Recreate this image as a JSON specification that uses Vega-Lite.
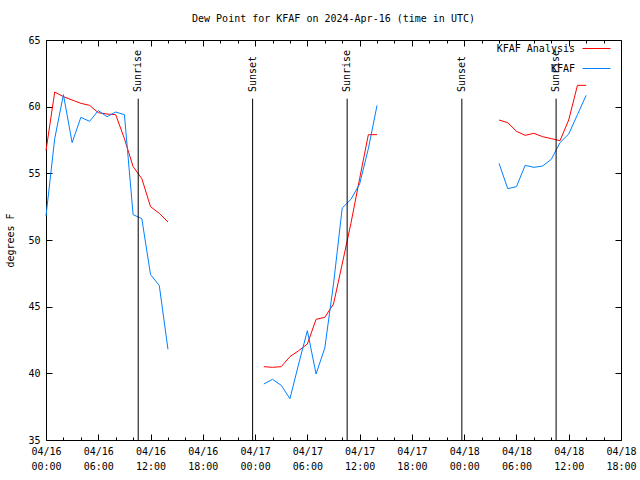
{
  "$schema": "https://vega.github.io/schema/vega-lite/v6.json",
  "width": 575,
  "height": 400,
  "autosize": {"type": "none"},
  "padding": {"left": 46, "top": 40, "right": 19, "bottom": 40},
  "background": "white",
  "title": {"text": "Dew Point for KFAF on 2024-Apr-16 (time in UTC)", "anchor": "middle", "baseline": "bottom", "offset": 0, "font": "DejaVu Sans Mono", "fontSize": 10, "fontWeight": "normal", "color": "black"},
  "datasets": {
    "obs": [
      {"series": "KFAF Analysis", "seg": 1, "t": "2024-04-16T00:00:00Z", "v": 56.7},
      {"series": "KFAF Analysis", "seg": 1, "t": "2024-04-16T01:00:00Z", "v": 61.1},
      {"series": "KFAF Analysis", "seg": 1, "t": "2024-04-16T02:00:00Z", "v": 60.75},
      {"series": "KFAF Analysis", "seg": 1, "t": "2024-04-16T03:00:00Z", "v": 60.5},
      {"series": "KFAF Analysis", "seg": 1, "t": "2024-04-16T04:00:00Z", "v": 60.25},
      {"series": "KFAF Analysis", "seg": 1, "t": "2024-04-16T05:00:00Z", "v": 60.1},
      {"series": "KFAF Analysis", "seg": 1, "t": "2024-04-16T06:00:00Z", "v": 59.55},
      {"series": "KFAF Analysis", "seg": 1, "t": "2024-04-16T07:00:00Z", "v": 59.45},
      {"series": "KFAF Analysis", "seg": 1, "t": "2024-04-16T08:00:00Z", "v": 59.4},
      {"series": "KFAF Analysis", "seg": 1, "t": "2024-04-16T09:00:00Z", "v": 57.6},
      {"series": "KFAF Analysis", "seg": 1, "t": "2024-04-16T10:00:00Z", "v": 55.5},
      {"series": "KFAF Analysis", "seg": 1, "t": "2024-04-16T11:00:00Z", "v": 54.6},
      {"series": "KFAF Analysis", "seg": 1, "t": "2024-04-16T12:00:00Z", "v": 52.5},
      {"series": "KFAF Analysis", "seg": 1, "t": "2024-04-16T13:00:00Z", "v": 52.0},
      {"series": "KFAF Analysis", "seg": 1, "t": "2024-04-16T14:00:00Z", "v": 51.35},
      {"series": "KFAF Analysis", "seg": 2, "t": "2024-04-17T01:00:00Z", "v": 40.5},
      {"series": "KFAF Analysis", "seg": 2, "t": "2024-04-17T02:00:00Z", "v": 40.45},
      {"series": "KFAF Analysis", "seg": 2, "t": "2024-04-17T03:00:00Z", "v": 40.5},
      {"series": "KFAF Analysis", "seg": 2, "t": "2024-04-17T04:00:00Z", "v": 41.25},
      {"series": "KFAF Analysis", "seg": 2, "t": "2024-04-17T05:00:00Z", "v": 41.7},
      {"series": "KFAF Analysis", "seg": 2, "t": "2024-04-17T06:00:00Z", "v": 42.2},
      {"series": "KFAF Analysis", "seg": 2, "t": "2024-04-17T07:00:00Z", "v": 44.05},
      {"series": "KFAF Analysis", "seg": 2, "t": "2024-04-17T08:00:00Z", "v": 44.2},
      {"series": "KFAF Analysis", "seg": 2, "t": "2024-04-17T09:00:00Z", "v": 45.2},
      {"series": "KFAF Analysis", "seg": 2, "t": "2024-04-17T10:00:00Z", "v": 48.2},
      {"series": "KFAF Analysis", "seg": 2, "t": "2024-04-17T11:00:00Z", "v": 51.25},
      {"series": "KFAF Analysis", "seg": 2, "t": "2024-04-17T12:00:00Z", "v": 54.6},
      {"series": "KFAF Analysis", "seg": 2, "t": "2024-04-17T13:00:00Z", "v": 57.9},
      {"series": "KFAF Analysis", "seg": 2, "t": "2024-04-17T14:00:00Z", "v": 57.9},
      {"series": "KFAF Analysis", "seg": 3, "t": "2024-04-18T04:00:00Z", "v": 59.0},
      {"series": "KFAF Analysis", "seg": 3, "t": "2024-04-18T05:00:00Z", "v": 58.8},
      {"series": "KFAF Analysis", "seg": 3, "t": "2024-04-18T06:00:00Z", "v": 58.15},
      {"series": "KFAF Analysis", "seg": 3, "t": "2024-04-18T07:00:00Z", "v": 57.85},
      {"series": "KFAF Analysis", "seg": 3, "t": "2024-04-18T08:00:00Z", "v": 58.0},
      {"series": "KFAF Analysis", "seg": 3, "t": "2024-04-18T09:00:00Z", "v": 57.75},
      {"series": "KFAF Analysis", "seg": 3, "t": "2024-04-18T10:00:00Z", "v": 57.6},
      {"series": "KFAF Analysis", "seg": 3, "t": "2024-04-18T11:00:00Z", "v": 57.45},
      {"series": "KFAF Analysis", "seg": 3, "t": "2024-04-18T12:00:00Z", "v": 59.0},
      {"series": "KFAF Analysis", "seg": 3, "t": "2024-04-18T13:00:00Z", "v": 61.6},
      {"series": "KFAF Analysis", "seg": 3, "t": "2024-04-18T14:00:00Z", "v": 61.6},
      {"series": "KFAF", "seg": 1, "t": "2024-04-16T00:00:00Z", "v": 51.8},
      {"series": "KFAF", "seg": 1, "t": "2024-04-16T01:00:00Z", "v": 57.6},
      {"series": "KFAF", "seg": 1, "t": "2024-04-16T02:00:00Z", "v": 60.9},
      {"series": "KFAF", "seg": 1, "t": "2024-04-16T03:00:00Z", "v": 57.3},
      {"series": "KFAF", "seg": 1, "t": "2024-04-16T04:00:00Z", "v": 59.2},
      {"series": "KFAF", "seg": 1, "t": "2024-04-16T05:00:00Z", "v": 58.9},
      {"series": "KFAF", "seg": 1, "t": "2024-04-16T06:00:00Z", "v": 59.7},
      {"series": "KFAF", "seg": 1, "t": "2024-04-16T07:00:00Z", "v": 59.25},
      {"series": "KFAF", "seg": 1, "t": "2024-04-16T08:00:00Z", "v": 59.6},
      {"series": "KFAF", "seg": 1, "t": "2024-04-16T09:00:00Z", "v": 59.4},
      {"series": "KFAF", "seg": 1, "t": "2024-04-16T10:00:00Z", "v": 51.9},
      {"series": "KFAF", "seg": 1, "t": "2024-04-16T11:00:00Z", "v": 51.6},
      {"series": "KFAF", "seg": 1, "t": "2024-04-16T12:00:00Z", "v": 47.4},
      {"series": "KFAF", "seg": 1, "t": "2024-04-16T13:00:00Z", "v": 46.6},
      {"series": "KFAF", "seg": 1, "t": "2024-04-16T14:00:00Z", "v": 41.8},
      {"series": "KFAF", "seg": 2, "t": "2024-04-17T01:00:00Z", "v": 39.2},
      {"series": "KFAF", "seg": 2, "t": "2024-04-17T02:00:00Z", "v": 39.55},
      {"series": "KFAF", "seg": 2, "t": "2024-04-17T03:00:00Z", "v": 39.1},
      {"series": "KFAF", "seg": 2, "t": "2024-04-17T04:00:00Z", "v": 38.1},
      {"series": "KFAF", "seg": 2, "t": "2024-04-17T05:00:00Z", "v": 40.7},
      {"series": "KFAF", "seg": 2, "t": "2024-04-17T06:00:00Z", "v": 43.2},
      {"series": "KFAF", "seg": 2, "t": "2024-04-17T07:00:00Z", "v": 39.95},
      {"series": "KFAF", "seg": 2, "t": "2024-04-17T08:00:00Z", "v": 41.9},
      {"series": "KFAF", "seg": 2, "t": "2024-04-17T09:00:00Z", "v": 46.7},
      {"series": "KFAF", "seg": 2, "t": "2024-04-17T10:00:00Z", "v": 52.4},
      {"series": "KFAF", "seg": 2, "t": "2024-04-17T11:00:00Z", "v": 53.05},
      {"series": "KFAF", "seg": 2, "t": "2024-04-17T12:00:00Z", "v": 54.2},
      {"series": "KFAF", "seg": 2, "t": "2024-04-17T13:00:00Z", "v": 56.85},
      {"series": "KFAF", "seg": 2, "t": "2024-04-17T14:00:00Z", "v": 60.1},
      {"series": "KFAF", "seg": 3, "t": "2024-04-18T04:00:00Z", "v": 55.75},
      {"series": "KFAF", "seg": 3, "t": "2024-04-18T05:00:00Z", "v": 53.85},
      {"series": "KFAF", "seg": 3, "t": "2024-04-18T06:00:00Z", "v": 54.0},
      {"series": "KFAF", "seg": 3, "t": "2024-04-18T07:00:00Z", "v": 55.6},
      {"series": "KFAF", "seg": 3, "t": "2024-04-18T08:00:00Z", "v": 55.45},
      {"series": "KFAF", "seg": 3, "t": "2024-04-18T09:00:00Z", "v": 55.55},
      {"series": "KFAF", "seg": 3, "t": "2024-04-18T10:00:00Z", "v": 56.05},
      {"series": "KFAF", "seg": 3, "t": "2024-04-18T11:00:00Z", "v": 57.3},
      {"series": "KFAF", "seg": 3, "t": "2024-04-18T12:00:00Z", "v": 57.95},
      {"series": "KFAF", "seg": 3, "t": "2024-04-18T13:00:00Z", "v": 59.4},
      {"series": "KFAF", "seg": 3, "t": "2024-04-18T14:00:00Z", "v": 60.85}
    ],
    "events": [
      {"event": "Sunrise", "t": "2024-04-16T10:35:00Z"},
      {"event": "Sunset", "t": "2024-04-16T23:43:00Z"},
      {"event": "Sunrise", "t": "2024-04-17T10:34:00Z"},
      {"event": "Sunset", "t": "2024-04-17T23:44:00Z"},
      {"event": "Sunrise", "t": "2024-04-18T10:33:00Z"}
    ]
  },
  "resolve": {"axis": {"x": "independent", "y": "independent"}},
  "layer": [
    {
      "data": {"name": "obs"},
      "mark": {"type": "line", "strokeWidth": 1},
      "encoding": {
        "x": {
          "field": "t", "type": "temporal",
          "scale": {"domain": [1713225600000, 1713463200000], "nice": false},
          "axis": {
            "orient": "bottom", "title": null,
            "values": [1713225600000, 1713232800000, 1713240000000, 1713247200000, 1713254400000, 1713261600000, 1713268800000, 1713276000000, 1713283200000, 1713290400000, 1713297600000, 1713304800000, 1713312000000, 1713319200000, 1713326400000, 1713333600000, 1713340800000, 1713348000000, 1713355200000, 1713362400000, 1713369600000, 1713376800000, 1713384000000, 1713391200000, 1713398400000, 1713405600000, 1713412800000, 1713420000000, 1713427200000, 1713434400000, 1713441600000, 1713448800000, 1713456000000, 1713463200000],
            "labelExpr": "utchours(datum.value) % 6 == 0 ? [utcFormat(datum.value, '%m/%d'), utcFormat(datum.value, '%H:%M')] : ''",
            "tickSize": -6,
            "tickDash": {"condition": {"test": "utchours(datum.value) % 6 == 0", "value": [6, 0]}, "value": [3, 20]},
            "labelPadding": 12, "labelLineHeight": 15, "labelFlush": false, "labelOverlap": false, "labelAlign": "center", "labelBaseline": "top"
          }
        },
        "y": {
          "field": "v", "type": "quantitative",
          "scale": {"domain": [35, 65], "nice": false, "zero": false},
          "axis": {"orient": "left", "title": "degrees F", "values": [35, 40, 45, 50, 55, 60, 65], "tickSize": -6, "labelPadding": 12, "titlePadding": 12}
        },
        "color": {
          "field": "series", "type": "nominal",
          "scale": {"domain": ["KFAF Analysis", "KFAF"], "range": ["#ff0000", "#0080ff"]},
          "legend": {"title": null, "orient": "none", "legendX": 536, "legendY": -6, "direction": "vertical", "symbolType": "stroke", "symbolSize": 784, "symbolStrokeWidth": 1, "labelAlign": "right", "labelOffset": -36, "labelFont": "DejaVu Sans Mono", "labelFontSize": 10, "labelColor": "black", "rowPadding": -6, "padding": 0}
        },
        "detail": {"field": "seg", "type": "nominal"}
      }
    },
    {
      "data": {"name": "events"},
      "mark": {"type": "rule", "color": "black", "strokeWidth": 1},
      "encoding": {
        "x": {
          "field": "t", "type": "temporal",
          "axis": {
            "orient": "top", "title": null, "labels": false,
            "values": [1713225600000, 1713232800000, 1713240000000, 1713247200000, 1713254400000, 1713261600000, 1713268800000, 1713276000000, 1713283200000, 1713290400000, 1713297600000, 1713304800000, 1713312000000, 1713319200000, 1713326400000, 1713333600000, 1713340800000, 1713348000000, 1713355200000, 1713362400000, 1713369600000, 1713376800000, 1713384000000, 1713391200000, 1713398400000, 1713405600000, 1713412800000, 1713420000000, 1713427200000, 1713434400000, 1713441600000, 1713448800000, 1713456000000, 1713463200000],
            "tickSize": -6,
            "tickDash": {"condition": {"test": "utchours(datum.value) % 6 == 0", "value": [6, 0]}, "value": [3, 20]}
          }
        },
        "y": {"datum": 35, "type": "quantitative", "axis": {"orient": "right", "title": null, "labels": false, "values": [35, 40, 45, 50, 55, 60, 65], "tickSize": -6}},
        "y2": {"datum": 60.6}
      }
    },
    {
      "data": {"name": "events"},
      "mark": {"type": "text", "angle": 270, "align": "left", "baseline": "middle", "font": "DejaVu Sans Mono", "fontSize": 10, "color": "black"},
      "encoding": {
        "x": {"field": "t", "type": "temporal", "axis": null},
        "y": {"datum": 61.1, "type": "quantitative", "axis": null},
        "text": {"field": "event", "type": "nominal"}
      }
    }
  ],
  "config": {
    "font": "DejaVu Sans Mono",
    "view": {"stroke": "black", "strokeWidth": 1},
    "axis": {"domain": false, "grid": false, "tickColor": "black", "labelColor": "black", "labelFont": "DejaVu Sans Mono", "labelFontSize": 10, "titleFont": "DejaVu Sans Mono", "titleFontSize": 10, "titleFontWeight": "normal", "titleColor": "black"}
  }
}
